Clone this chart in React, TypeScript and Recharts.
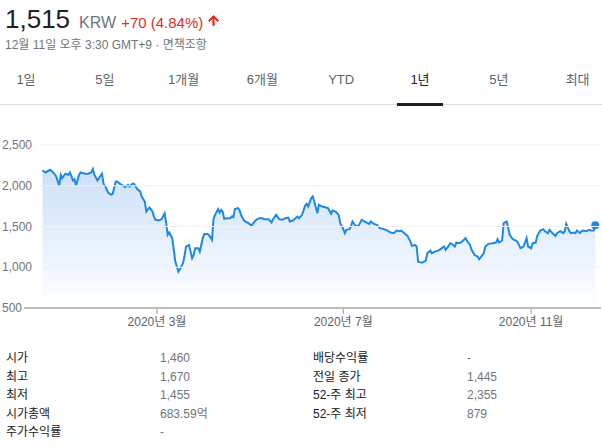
import React from 'react';
import { AreaChart, Area, XAxis, YAxis, ReferenceDot } from 'recharts';

// days counted from 2019-12-11 (start of the 1-year window)
const tradeDays = [
    6, 8, 11, 13, 15, 17, 18, 19, 21, 23, 24, 26, 27, 28, 30, 31, 34, 36, 38, 39,
    40, 42, 44, 45, 46, 47, 49, 51, 52, 54, 55, 57, 59, 60, 62, 63, 65, 66, 68, 70,
    71, 73, 74, 76, 77, 78, 79, 80, 82, 84, 86, 87, 88, 89, 91, 92, 93, 95, 96, 98,
    99, 100, 102, 103, 104, 105, 106, 108, 109, 111, 112, 114, 115, 117, 118, 119, 121, 122, 123, 124,
    125, 127, 129, 130, 131, 132, 134, 135, 136, 138, 140, 141, 143, 144, 146, 148, 150, 151, 152, 154,
    156, 157, 159, 161, 163, 165, 167, 168, 170, 173, 174, 176, 178, 179, 180, 182, 183, 184, 186, 187,
    189, 191, 193, 195, 196, 198, 200, 201, 203, 204, 205, 207, 208, 209, 211, 213, 215, 217, 220, 221,
    223, 225, 227, 231, 234, 236, 238, 240, 241, 243, 245, 247, 248, 250, 251, 252, 254, 255, 257, 258,
    260, 261, 263, 265, 266, 268, 269, 270, 272, 273, 274, 276, 277, 278, 280, 282, 283, 285, 286, 287,
    289, 290, 291, 292, 293, 295, 296, 298, 301, 303, 304, 305, 307, 308, 310, 311, 312, 314, 316, 317,
    319, 321, 322, 323, 324, 326, 327, 329, 330, 332, 334, 335, 337, 338, 340, 342, 343, 345, 347, 348,
    349, 351, 352, 354, 355, 356, 358, 359, 360, 362, 364, 365, 367, 368,
];

const closes = [
    2188, 2163, 2196, 2163, 2114, 1999, 2135, 2094, 2147, 2135, 2163, 2065, 2081, 1999, 2135, 2163, 2147, 2147, 2163, 2205,
    2135, 2065, 2122, 2147, 2024, 1999, 1917, 1889, 1901, 2053, 2053, 2020, 1999, 1983, 2012, 1991, 2024, 2024, 1959, 1930,
    1868, 1807, 1684, 1733, 1713, 1684, 1622, 1582, 1573, 1590, 1664, 1541, 1397, 1426, 1357, 1213, 1069, 946, 976, 1049,
    1131, 1254, 1274, 1192, 1111, 1151, 1234, 1234, 1192, 1357, 1409, 1409, 1397, 1336, 1590, 1643, 1713, 1672, 1704, 1684,
    1594, 1602, 1602, 1622, 1614, 1713, 1725, 1704, 1643, 1573, 1549, 1541, 1508, 1541, 1582, 1602, 1602, 1590, 1590, 1590,
    1549, 1590, 1643, 1590, 1582, 1602, 1610, 1561, 1573, 1622, 1602, 1643, 1754, 1778, 1745, 1848, 1868, 1807, 1664, 1766,
    1745, 1737, 1725, 1655, 1696, 1684, 1643, 1541, 1467, 1418, 1459, 1467, 1500, 1561, 1508, 1508, 1582, 1561, 1532, 1561,
    1532, 1520, 1479, 1459, 1426, 1418, 1450, 1442, 1450, 1418, 1385, 1315, 1262, 1274, 1254, 1069, 1057, 1057, 1081, 1172,
    1204, 1172, 1192, 1204, 1213, 1241, 1254, 1213, 1262, 1295, 1287, 1254, 1303, 1295, 1303, 1336, 1357, 1295, 1274, 1213,
    1151, 1139, 1131, 1098, 1123, 1172, 1254, 1287, 1295, 1303, 1344, 1303, 1328, 1541, 1561, 1479, 1397, 1344, 1328, 1315,
    1234, 1254, 1303, 1357, 1254, 1234, 1295, 1303, 1385, 1450, 1467, 1442, 1418, 1459, 1418, 1385, 1418, 1442, 1418, 1442,
    1532, 1442, 1418, 1426, 1418, 1450, 1418, 1442, 1450, 1442, 1459, 1450, 1450, 1515,
];

const priceTicks = [500, 1000, 1500, 2000, 2500];
const monthTicks = [81, 203, 326]; // 3월 1일, 7월 1일, 11월 1일
const monthLabels = ['2020년 3월', '2020년 7월', '2020년 11월'];

const rangeTabs = ['1일', '5일', '1개월', '6개월', 'YTD', '1년', '5년', '최대'];
const activeTab = '1년';

const leftStatLabels = ['시가', '최고', '최저', '시가총액', '주가수익률'];
const leftStatValues = ['1,460', '1,670', '1,455', '683.59억', '-'];
const rightStatLabels = ['배당수익률', '전일 종가', '52-주 최고', '52-주 최저'];
const rightStatValues = ['-', '1,445', '2,355', '879'];

const chartData = tradeDays.map((day, i) => ({ day, close: closes[i] }));
const lastPoint = chartData[chartData.length - 1];

const FONT = "'Liberation Sans', Arial, 'Noto Sans CJK KR', sans-serif";
const BLUE = '#1e88e5';
const CHART_W = 602;
const CHART_H = 220;
const PLOT_BOTTOM = 188;

const fmt = (n: number) => n.toLocaleString('en-US');

// y labels sit inside the plot, gridline starts after the label
const PriceTick = (props: any) => {
    const { y, payload } = props;
    const isBase = payload.value === 500;
    return (
        <g>
            <text x={3} y={y} dy={4} fontSize={12} fill="#70757a" fontFamily={FONT} textAnchor="start">
                {fmt(payload.value)}
            </text>
            <line
                x1={isBase ? 25 : 39}
                x2={CHART_W}
                y1={y}
                y2={y}
                stroke={isBase ? '#bdbdbd' : '#f1f1f1'}
                strokeWidth={isBase ? 2 : 1}
            />
        </g>
    );
};

const MonthTick = (props: any) => {
    const { x, payload, index } = props;
    return (
        <g>
            <line x1={x} x2={x} y1={PLOT_BOTTOM} y2={PLOT_BOTTOM + 6} stroke="#9e9e9e" strokeWidth={1} />
            <text x={x} y={PLOT_BOTTOM + 18} fontSize={12} fill="#5f6368" fontFamily={FONT} textAnchor="middle">
                {monthLabels[index] ?? payload.value}
            </text>
        </g>
    );
};

const App = () => {
    return (
        <div style={{ position: 'absolute', left: 0, top: 0, width: 602, height: 447, background: '#fff', overflow: 'hidden', fontFamily: FONT }}>
            {/* Quote header */}
            <div style={{ position: 'absolute', left: 5, top: 4, display: 'flex', alignItems: 'baseline', lineHeight: '30px', whiteSpace: 'nowrap' }}>
                <span style={{ fontSize: 26, color: '#202124' }}>1,515</span>
                <span style={{ fontSize: 16, color: '#70757a', marginLeft: 9 }}>KRW</span>
                <span style={{ fontSize: 15, color: '#d93025', marginLeft: 5 }}>+70 (4.84%)</span>
                <svg width={15} height={15} viewBox="0 0 24 24" style={{ marginLeft: 3 }}>
                    <path d="M4 12l1.41 1.41L11 7.83V20h2V7.83l5.58 5.59L20 12l-8-8-8 8z" fill="#d93025" stroke="#d93025" strokeWidth={1.5} />
                </svg>
            </div>
            <div style={{ position: 'absolute', left: 5, top: 37, fontSize: 12, lineHeight: '16px', color: '#70757a', whiteSpace: 'nowrap' }}>
                12월 11일 오후 3:30 GMT+9 · 면책조항
            </div>

            {/* Range tabs */}
            {rangeTabs.map((tab, i) => (
                <div
                    key={tab}
                    style={{
                        position: 'absolute',
                        left: 26 + i * 78.8 - 39,
                        width: 78,
                        top: 72,
                        textAlign: 'center',
                        fontSize: 13,
                        lineHeight: '16px',
                        color: tab === activeTab ? '#202124' : '#5f6368',
                    }}
                >
                    {tab}
                </div>
            ))}
            <div style={{ position: 'absolute', left: 0, top: 104, width: 602, height: 1, background: '#dadce0' }} />
            <div style={{ position: 'absolute', left: 397, top: 103, width: 46, height: 3, background: '#202124' }} />

            {/* Price chart */}
            <div style={{ position: 'absolute', left: 0, top: 120 }}>
                <AreaChart width={CHART_W + 1} height={CHART_H} data={chartData} margin={{ top: 25, right: 0, bottom: 0, left: 0 }} style={{ marginLeft: -1 }}>
                    <defs>
                        <linearGradient id="priceFill" x1="0" y1="0" x2="0" y2="1">
                            <stop offset="0%" stopColor="#1a73e8" stopOpacity={0.22} />
                            <stop offset="100%" stopColor="#1a73e8" stopOpacity={0} />
                        </linearGradient>
                    </defs>
                    <XAxis
                        dataKey="day"
                        type="number"
                        domain={[-21.8, 372.4]}
                        ticks={monthTicks}
                        tick={<MonthTick />}
                        tickLine={false}
                        axisLine={false}
                        height={32}
                        interval={0}
                    />
                    <YAxis
                        type="number"
                        domain={[500, 2500]}
                        ticks={priceTicks}
                        tick={<PriceTick />}
                        tickLine={false}
                        axisLine={false}
                        width={1}
                        interval={0}
                    />
                    <Area
                        type="linear"
                        dataKey="close"
                        stroke={BLUE}
                        strokeWidth={2}
                        fill="url(#priceFill)"
                        fillOpacity={1}
                        dot={false}
                        activeDot={false}
                        isAnimationActive={false}
                    />
                    <ReferenceDot x={lastPoint.day} y={lastPoint.close} r={4} fill={BLUE} stroke="none" />
                </AreaChart>
            </div>

            {/* Key stats */}
            {leftStatLabels.map((label, i) => (
                <React.Fragment key={label}>
                    <div style={{ position: 'absolute', left: 6, top: 350 + i * 18.6, fontSize: 12, lineHeight: '16px', color: '#202124' }}>{label}</div>
                    <div style={{ position: 'absolute', left: 160, top: 350 + i * 18.6, fontSize: 12, lineHeight: '16px', color: '#70757a' }}>{leftStatValues[i]}</div>
                </React.Fragment>
            ))}
            {rightStatLabels.map((label, i) => (
                <React.Fragment key={label}>
                    <div style={{ position: 'absolute', left: 313, top: 350 + i * 18.6, fontSize: 12, lineHeight: '16px', color: '#202124' }}>{label}</div>
                    <div style={{ position: 'absolute', left: 467, top: 350 + i * 18.6, fontSize: 12, lineHeight: '16px', color: '#70757a' }}>{rightStatValues[i]}</div>
                </React.Fragment>
            ))}
        </div>
    );
};

export default App;
